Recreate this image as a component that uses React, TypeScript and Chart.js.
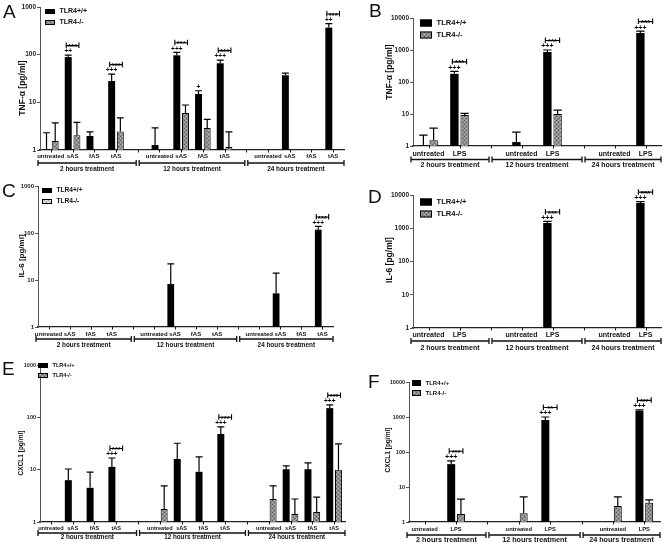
import React, { useEffect, useRef } from 'react';
import { Chart, registerables } from 'chart.js';

Chart.register(...registerables);

const FONT = '"Liberation Sans", Arial, Helvetica, sans-serif';

// ---------- shared categories / labels ----------
const catsAS = ['untreated', 'sAS', 'fAS', 'tAS', '', 'untreated', 'sAS', 'fAS', 'tAS', '', 'untreated', 'sAS', 'fAS', 'tAS'];
const catsLPS = ['untreated', 'LPS', '', 'untreated', 'LPS', '', 'untreated', 'LPS'];
const groupLabels = ['2 hours treatment', '12 hours treatment', '24 hours treatment'];
const seriesNames = ['TLR4+/+', 'TLR4-/-'];
const ticks1000 = [1, 10, 100, 1000];
const ticks10000 = [1, 10, 100, 1000, 10000];

// ---------- A: TNF-alpha, amyloid ----------
const tnfAsWt = [1.05, 89, 1.97, 28, null, 1.27, 97, 15, 66, null, null, 37, null, 370];
const tnfAsWtErr = [2.3, 98, 2.4, 39, null, 2.9, 112, 17.5, 77, null, null, 41, null, 450];
const tnfAsKo = [1.55, 2.05, 1.02, 2.45, null, null, 6, 2.9, 1.15, null, null, null, null, null];
const tnfAsKoErr = [3.7, 3.8, null, 4.7, null, null, 8.8, 4.4, 2.4, null, null, null, null, null];
const tnfAsPlus = ['', '++', '', '+++', '', '', '+++', '+', '+++', '', '', '', '', '++'];
const tnfAsSig = ['', '***', '', '***', '', '', '***', '', '***', '', '', '', '', '***'];

// ---------- B: TNF-alpha, LPS ----------
const tnfLpsWt = [1.05, 180, null, 1.33, 870, null, null, 3400];
const tnfLpsWtErr = [2.2, 215, null, 2.7, 1000, null, null, 3900];
const tnfLpsKo = [1.5, 9.3, null, null, 10, null, null, null];
const tnfLpsKoErr = [3.6, 10.5, null, null, 13.3, null, null, null];
const tnfLpsPlus = ['', '+++', '', '', '+++', '', '', '+++'];
const tnfLpsSig = ['', '***', '', '', '***', '', '', '***'];

// ---------- C: IL-6, amyloid ----------
const il6AsWt = [null, null, null, null, null, null, 8.2, null, null, null, null, 5.2, null, 118];
const il6AsWtErr = [null, null, null, null, null, null, 22, null, null, null, null, 14, null, 138];
const il6AsKo = [null, null, null, null, null, null, null, null, null, null, null, null, null, null];
const il6AsKoErr = [null, null, null, null, null, null, null, null, null, null, null, null, null, null];
const il6AsPlus = ['', '', '', '', '', '', '', '', '', '', '', '', '', '+++'];
const il6AsSig = ['', '', '', '', '', '', '', '', '', '', '', '', '', '***'];

// ---------- D: IL-6, LPS ----------
const il6LpsWt = [null, null, null, null, 1450, null, null, 5700];
const il6LpsWtErr = [null, null, null, null, 1600, null, null, 6300];
const il6LpsKo = [null, null, null, null, null, null, null, null];
const il6LpsKoErr = [null, null, null, null, null, null, null, null];
const il6LpsPlus = ['', '', '', '', '+++', '', '', '+++'];
const il6LpsSig = ['', '', '', '', '***', '', '', '***'];

// ---------- E: CXCL1, amyloid ----------
const cxAsWt = [1.02, 6.3, 4.5, 11.3, null, null, 16, 9.1, 48, null, 1.02, 10.2, 10.2, 150];
const cxAsWtErr = [null, 10.3, 9, 16.7, null, null, 32, 17.5, 66, null, null, 11.8, 13.5, 173];
const cxAsKo = [1.02, null, 1.02, null, null, 1.77, 1.02, null, 1.02, null, 2.75, 1.42, 1.55, 10];
const cxAsKoErr = [null, null, null, null, null, 4.9, null, null, null, null, 4.9, 2.75, 3.0, 31];
const cxAsPlus = ['', '', '', '+++', '', '', '', '', '+++', '', '', '', '', '+++'];
const cxAsSig = ['', '', '', '***', '', '', '', '', '***', '', '', '', '', '***'];

// ---------- F: CXCL1, LPS ----------
const cxLpsWt = [null, 45, null, null, 820, null, null, 1500];
const cxLpsWtErr = [null, 56, null, null, 1000, null, null, 1600];
const cxLpsKo = [null, 1.7, null, 1.77, 1.02, null, 2.87, 3.56];
const cxLpsKoErr = [null, 4.5, null, 5.2, null, null, 5.2, 4.3];
const cxLpsPlus = ['', '+++', '', '', '+++', '', '', '+++'];
const cxLpsSig = ['', '***', '', '', '**', '', '', '***'];

type Series = (number | null)[];
interface Panel {
  letter: string; letterX: number; letterY: number;
  area: { l: number; t: number; r: number; b: number };
  boxLeft: number;
  yMax: number; yTicks: number[];
  yTitle: string; yTitleX: number; yTitleY: number; yTitleSize: number;
  tickSize: number;
  cats: string[];
  wt: Series; wtErr: Series; ko: Series; koErr: Series;
  plus: string[]; sig: string[];
  catPct: number; barPct: number;
  catSize: number; groupSize: number; markSize: number; starSize: number;
  labelDy: number; bracketDy: number; groupDy: number;
  legend: { x: number; y: number; dy: number; w: number; h: number; size: number; light: boolean };
}

const panels: Panel[] = [
  {
    letter: 'A', letterX: 3, letterY: 18,
    area: { l: 40, t: 7, r: 344, b: 150 }, boxLeft: 0,
    yMax: 1000, yTicks: ticks1000,
    yTitle: 'TNF-\u03b1 [pg/ml]', yTitleX: 23, yTitleY: 88, yTitleSize: 8.5, tickSize: 6.5,
    cats: catsAS, wt: tnfAsWt, wtErr: tnfAsWtErr, ko: tnfAsKo, koErr: tnfAsKoErr,
    plus: tnfAsPlus, sig: tnfAsSig, catPct: 0.8, barPct: 0.8,
    catSize: 6, groupSize: 6.4, markSize: 6.5, starSize: 8,
    labelDy: 6, bracketDy: 13, groupDy: 19,
    legend: { x: 45, y: 11.5, dy: 11, w: 10, h: 5, size: 7, light: false },
  },
  {
    letter: 'B', letterX: 369, letterY: 17,
    area: { l: 413, t: 18, r: 661, b: 146 }, boxLeft: 360,
    yMax: 10000, yTicks: ticks10000,
    yTitle: 'TNF-\u03b1 [pg/ml]', yTitleX: 390, yTitleY: 72, yTitleSize: 8.5, tickSize: 6.5,
    cats: catsLPS, wt: tnfLpsWt, wtErr: tnfLpsWtErr, ko: tnfLpsKo, koErr: tnfLpsKoErr,
    plus: tnfLpsPlus, sig: tnfLpsSig, catPct: 0.66, barPct: 0.82,
    catSize: 7, groupSize: 7, markSize: 7, starSize: 8,
    labelDy: 8.5, bracketDy: 13.5, groupDy: 19.5,
    legend: { x: 420, y: 23, dy: 12, w: 12, h: 7, size: 7.6, light: false },
  },
  {
    letter: 'C', letterX: 2, letterY: 197,
    area: { l: 38, t: 186, r: 333, b: 327 }, boxLeft: 0,
    yMax: 1000, yTicks: ticks1000,
    yTitle: 'IL-6 [pg/ml]', yTitleX: 21.5, yTitleY: 256, yTitleSize: 8, tickSize: 6,
    cats: catsAS, wt: il6AsWt, wtErr: il6AsWtErr, ko: il6AsKo, koErr: il6AsKoErr,
    plus: il6AsPlus, sig: il6AsSig, catPct: 0.8, barPct: 0.8,
    catSize: 6, groupSize: 6.4, markSize: 6.5, starSize: 8,
    labelDy: 7, bracketDy: 12, groupDy: 18.5,
    legend: { x: 42, y: 190.5, dy: 11, w: 10, h: 5, size: 6.6, light: true },
  },
  {
    letter: 'D', letterX: 368, letterY: 203,
    area: { l: 413, t: 195, r: 661, b: 328 }, boxLeft: 360,
    yMax: 10000, yTicks: ticks10000,
    yTitle: 'IL-6 [pg/ml]', yTitleX: 390, yTitleY: 260, yTitleSize: 8.5, tickSize: 6.5,
    cats: catsLPS, wt: il6LpsWt, wtErr: il6LpsWtErr, ko: il6LpsKo, koErr: il6LpsKoErr,
    plus: il6LpsPlus, sig: il6LpsSig, catPct: 0.66, barPct: 0.82,
    catSize: 7, groupSize: 7, markSize: 7, starSize: 8,
    labelDy: 7, bracketDy: 13, groupDy: 20,
    legend: { x: 420, y: 202, dy: 12, w: 12, h: 7, size: 7.6, light: false },
  },
  {
    letter: 'E', letterX: 2, letterY: 375,
    area: { l: 40, t: 365, r: 345, b: 522 }, boxLeft: 0,
    yMax: 1000, yTicks: ticks1000,
    yTitle: 'CXCL1 [pg/ml]', yTitleX: 21, yTitleY: 453, yTitleSize: 6.5, tickSize: 5.5,
    cats: catsAS, wt: cxAsWt, wtErr: cxAsWtErr, ko: cxAsKo, koErr: cxAsKoErr,
    plus: cxAsPlus, sig: cxAsSig, catPct: 0.8, barPct: 0.8,
    catSize: 5.6, groupSize: 6.3, markSize: 6.5, starSize: 7.5,
    labelDy: 6, bracketDy: 11, groupDy: 15.5,
    legend: { x: 38, y: 365.5, dy: 10, w: 10, h: 5, size: 5.6, light: false },
  },
  {
    letter: 'F', letterX: 368, letterY: 388,
    area: { l: 409, t: 382, r: 660, b: 522 }, boxLeft: 360,
    yMax: 10000, yTicks: ticks10000,
    yTitle: 'CXCL1 [pg/ml]', yTitleX: 388, yTitleY: 450, yTitleSize: 6.5, tickSize: 5.5,
    cats: catsLPS, wt: cxLpsWt, wtErr: cxLpsWtErr, ko: cxLpsKo, koErr: cxLpsKoErr,
    plus: cxLpsPlus, sig: cxLpsSig, catPct: 0.62, barPct: 0.82,
    catSize: 5.8, groupSize: 7.2, markSize: 7, starSize: 7.5,
    labelDy: 7.5, bracketDy: 13, groupDy: 18,
    legend: { x: 412, y: 383, dy: 10, w: 9, h: 6, size: 6, light: false },
  },
];

function makePattern(ctx: CanvasRenderingContext2D, light: boolean): CanvasPattern {
  const c = document.createElement('canvas');
  c.width = 4; c.height = 4;
  const g = c.getContext('2d') as CanvasRenderingContext2D;
  g.fillStyle = light ? '#d2d2d2' : '#8c8c8c';
  g.fillRect(0, 0, 4, 4);
  g.fillStyle = light ? '#a6a6a6' : '#5c5c5c';
  g.fillRect(0, 0, 1, 1); g.fillRect(2, 2, 1, 1);
  g.fillStyle = light ? '#f2f2f2' : '#b6b6b6';
  g.fillRect(2, 0, 1, 1); g.fillRect(0, 2, 1, 1);
  return ctx.createPattern(c, 'repeat') as CanvasPattern;
}

function makeDecor(p: Panel, legPat: CanvasPattern) {
  return {
    id: 'decor',
    afterDraw(chart: any) {
      const ctx: CanvasRenderingContext2D = chart.ctx;
      const xs = chart.scales.x;
      const ys = chart.scales.y;
      const ca = chart.chartArea;
      const m0 = chart.getDatasetMeta(0);
      const m1 = chart.getDatasetMeta(1);
      ctx.save();

      // error bars
      const sets: [any, Series, Series][] = [[m0, p.wt, p.wtErr], [m1, p.ko, p.koErr]];
      sets.forEach(([meta, vals, errs]) => {
        vals.forEach((v, j) => {
          const e = errs[j];
          if (v == null || e == null) return;
          const bar = meta.data[j];
          const x = bar.x;
          const w = bar.width;
          const yTop = ys.getPixelForValue(v);
          const yE = ys.getPixelForValue(e);
          ctx.strokeStyle = '#000';
          ctx.lineWidth = 1.2;
          ctx.beginPath();
          ctx.moveTo(x, yTop); ctx.lineTo(x, yE);
          ctx.moveTo(x - w / 2, yE); ctx.lineTo(x + w / 2, yE);
          ctx.stroke();
        });
      });

      // plus signs and significance brackets
      p.cats.forEach((_, j) => {
        const plus = p.plus[j];
        const sig = p.sig[j];
        if (!plus && !sig) return;
        const ref = p.wtErr[j] != null ? p.wtErr[j] : p.wt[j];
        if (ref == null) return;
        const bar = m0.data[j];
        const top = ys.getPixelForValue(ref);
        ctx.fillStyle = '#000';
        ctx.textAlign = 'center';
        ctx.textBaseline = 'middle';
        ctx.font = `bold ${p.markSize}px ${FONT}`;
        if (plus) ctx.fillText(plus, bar.x, top - 3.5);
        if (sig) {
          const c = xs.getPixelForValue(j);
          const x1 = bar.x - 2;
          const x2 = 2 * c - bar.x + 2;
          const yl = top - 9.5;
          ctx.strokeStyle = '#000';
          ctx.lineWidth = 1.1;
          ctx.beginPath();
          ctx.moveTo(x1, yl); ctx.lineTo(x2, yl);
          ctx.moveTo(x1, yl - 3); ctx.lineTo(x1, yl + 2.5);
          ctx.moveTo(x2, yl - 3); ctx.lineTo(x2, yl + 2.5);
          ctx.stroke();
          ctx.font = `bold ${p.starSize}px ${FONT}`;
          ctx.textBaseline = 'alphabetic';
          ctx.fillText(sig, (x1 + x2) / 2, yl + 3.6);
        }
      });

      // category ticks & labels
      ctx.strokeStyle = '#1a1a1a';
      ctx.lineWidth = 1;
      ctx.fillStyle = '#111';
      ctx.font = `bold ${p.catSize}px ${FONT}`;
      ctx.textAlign = 'center';
      ctx.textBaseline = 'middle';
      p.cats.forEach((c, j) => {
        const x = xs.getPixelForValue(j);
        ctx.beginPath();
        ctx.moveTo(Math.round(x) + 0.5, ca.bottom);
        ctx.lineTo(Math.round(x) + 0.5, ca.bottom + 2.5);
        ctx.stroke();
        if (c) ctx.fillText(c, x, ca.bottom + p.labelDy);
      });

      // group brackets
      const gaps = p.cats.map((c, i) => (c === '' ? i : -1)).filter((i) => i >= 0);
      const bounds = [ca.left - 2, ...gaps.map((i) => xs.getPixelForValue(i)), ca.right];
      const yb = ca.bottom + p.bracketDy;
      ctx.lineWidth = 1.3;
      ctx.strokeStyle = '#111';
      ctx.font = `bold ${p.groupSize}px ${FONT}`;
      groupLabels.forEach((g, k) => {
        const x1 = bounds[k] + (k > 0 ? 1.5 : 0);
        const x2 = bounds[k + 1] - (k < groupLabels.length - 1 ? 1.5 : 0);
        ctx.beginPath();
        ctx.moveTo(x1, yb); ctx.lineTo(x2, yb);
        ctx.moveTo(x1, yb - 3); ctx.lineTo(x1, yb + 3);
        ctx.moveTo(x2, yb - 3); ctx.lineTo(x2, yb + 3);
        ctx.stroke();
        ctx.fillText(g, (x1 + x2) / 2, ca.bottom + p.groupDy);
      });

      // legend
      const L = p.legend;
      seriesNames.forEach((name, k) => {
        const y = L.y + k * L.dy;
        ctx.fillStyle = k === 0 ? '#000' : (legPat as any);
        ctx.fillRect(L.x, y - L.h / 2, L.w, L.h);
        ctx.strokeStyle = '#000';
        ctx.lineWidth = 1;
        ctx.strokeRect(L.x + 0.5, y - L.h / 2 + 0.5, L.w - 1, L.h - 1);
        ctx.fillStyle = '#111';
        ctx.font = `bold ${L.size}px ${FONT}`;
        ctx.textAlign = 'left';
        ctx.textBaseline = 'middle';
        ctx.fillText(name, L.x + L.w + 4.5, y);
      });

      // y title
      ctx.save();
      ctx.translate(p.yTitleX, p.yTitleY);
      ctx.rotate(-Math.PI / 2);
      ctx.font = `bold ${p.yTitleSize}px ${FONT}`;
      ctx.fillStyle = '#111';
      ctx.textAlign = 'center';
      ctx.textBaseline = 'middle';
      ctx.fillText(p.yTitle, 0, 0);
      ctx.restore();

      // panel letter
      ctx.font = `19px ${FONT}`;
      ctx.fillStyle = '#111';
      ctx.textAlign = 'left';
      ctx.textBaseline = 'alphabetic';
      ctx.fillText(p.letter, p.letterX, p.letterY);

      ctx.restore();
    },
  };
}

function PanelChart({ p }: { p: Panel }) {
  const ref = useRef<HTMLCanvasElement>(null);
  useEffect(() => {
    const canvas = ref.current as HTMLCanvasElement;
    const ctx = canvas.getContext('2d') as CanvasRenderingContext2D;
    const barPat = makePattern(ctx, false);
    const legPat = makePattern(ctx, p.legend.light);
    const chart = new Chart(canvas, {
      type: 'bar',
      data: {
        labels: p.cats,
        datasets: [
          {
            label: seriesNames[0], data: p.wt as any,
            backgroundColor: '#000', borderColor: '#000', borderWidth: 0,
            categoryPercentage: p.catPct, barPercentage: p.barPct,
          },
          {
            label: seriesNames[1], data: p.ko as any,
            backgroundColor: barPat as any, borderColor: '#000', borderWidth: 1,
            categoryPercentage: p.catPct, barPercentage: p.barPct,
          },
        ],
      },
      options: {
        responsive: false,
        animation: false,
        devicePixelRatio: 1,
        events: [],
        layout: { padding: { left: p.boxLeft, top: p.area.t, right: 666 - p.area.r, bottom: 0 } },
        plugins: { legend: { display: false }, tooltip: { enabled: false } },
        scales: {
          x: {
            type: 'category',
            ticks: { display: false },
            grid: { display: false },
            border: { display: true, color: '#222', width: 1.2 },
            afterFit: (s: any) => { s.height = 542 - p.area.b; },
          },
          y: {
            type: 'logarithmic',
            min: 1,
            max: p.yMax,
            afterBuildTicks: (s: any) => { s.ticks = p.yTicks.map((v) => ({ value: v })); },
            afterFit: (s: any) => { s.width = p.area.l - p.boxLeft; },
            ticks: {
              callback: (v: any) => String(v),
              font: { family: FONT, size: p.tickSize, weight: 'bold' },
              color: '#222',
              padding: 1,
              autoSkip: false,
            },
            grid: { drawOnChartArea: false, drawTicks: true, tickLength: 3, color: '#555' },
            border: { display: true, color: '#555', width: 1 },
          },
        } as any,
      },
      plugins: [makeDecor(p, legPat)],
    });
    return () => chart.destroy();
  }, [p]);
  return (
    <canvas
      ref={ref}
      width={666}
      height={542}
      style={{ position: 'absolute', left: 0, top: 0, width: 666, height: 542 }}
    />
  );
}

export default function App() {
  return (
    <div style={{ position: 'absolute', left: 0, top: 0, width: 666, height: 542, background: '#fff', overflow: 'hidden' }}>
      {panels.map((p) => (
        <PanelChart key={p.letter} p={p} />
      ))}
    </div>
  );
}
